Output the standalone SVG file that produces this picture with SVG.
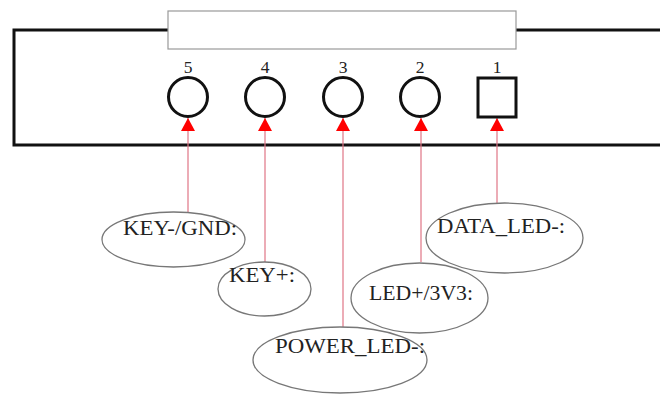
<svg xmlns="http://www.w3.org/2000/svg" width="660" height="395" viewBox="0 0 660 395">
<style>
.body{fill:none;stroke:#111;stroke-width:3}
.panel{fill:#fff;stroke:#999;stroke-width:1.2}
.pin{fill:none;stroke:#111;stroke-width:3}
.num{font-family:"Liberation Serif",serif;font-size:17.5px;fill:#222;text-anchor:middle}
.bub{fill:#fff;stroke:#777;stroke-width:1.3}
.lbl{font-family:"Liberation Serif",serif;font-size:20px;fill:#222}
.wire{stroke:#e07585;stroke-width:1.2;fill:none}
</style>
<defs>
<marker id="ah" viewBox="0 0 13 14" refX="13" refY="7" markerWidth="13" markerHeight="14" markerUnits="userSpaceOnUse" orient="auto">
<path d="M0,0 L13,7 L0,14 z" fill="#ff0000"/>
</marker>
</defs>
<rect width="660" height="395" fill="#fff"/>
<g id="housing">
<path class="body" d="M664 30 H14 V145 H664"/>
<rect class="panel" x="168" y="11" width="348" height="38"/>
</g>
<g id="connectors">
<line class="wire" x1="188" y1="212" x2="188" y2="118" marker-end="url(#ah)"/>
<line class="wire" x1="265" y1="262" x2="265" y2="118" marker-end="url(#ah)"/>
<line class="wire" x1="343" y1="327" x2="343" y2="118" marker-end="url(#ah)"/>
<line class="wire" x1="421" y1="262" x2="421" y2="118" marker-end="url(#ah)"/>
<line class="wire" x1="497" y1="213" x2="497" y2="118" marker-end="url(#ah)"/>
</g>
<g id="pin5"><circle class="pin" cx="188" cy="97" r="19.5"/><text class="num" x="188" y="73">5</text></g>
<g id="pin4"><circle class="pin" cx="265" cy="97" r="19.5"/><text class="num" x="265" y="73">4</text></g>
<g id="pin3"><circle class="pin" cx="343" cy="97" r="19.5"/><text class="num" x="343" y="73">3</text></g>
<g id="pin2"><circle class="pin" cx="420" cy="97" r="19.5"/><text class="num" x="420" y="73">2</text></g>
<g id="pin1"><rect class="pin" x="478" y="78" width="38" height="39"/><text class="num" x="497" y="73">1</text></g>
<g id="key-gnd"><ellipse class="bub" cx="173.5" cy="239.5" rx="71.5" ry="27.5"/><text class="lbl" x="123" y="235" textLength="114" lengthAdjust="spacingAndGlyphs">KEY-/GND:</text></g>
<g id="key-plus"><ellipse class="bub" cx="264.5" cy="289" rx="46.5" ry="27"/><text class="lbl" x="229" y="282" textLength="66" lengthAdjust="spacingAndGlyphs">KEY+:</text></g>
<g id="power-led"><ellipse class="bub" cx="340" cy="360" rx="87" ry="33"/><text class="lbl" x="275" y="353" textLength="150" lengthAdjust="spacingAndGlyphs">POWER_LED-:</text></g>
<g id="led-3v3"><ellipse class="bub" cx="419.5" cy="298" rx="68.5" ry="35"/><text class="lbl" x="369" y="300" textLength="104" lengthAdjust="spacingAndGlyphs">LED+/3V3:</text></g>
<g id="data-led"><ellipse class="bub" cx="504.5" cy="238" rx="78.5" ry="35"/><text class="lbl" x="437" y="233" textLength="128" lengthAdjust="spacingAndGlyphs">DATA_LED-:</text></g>
</svg>
